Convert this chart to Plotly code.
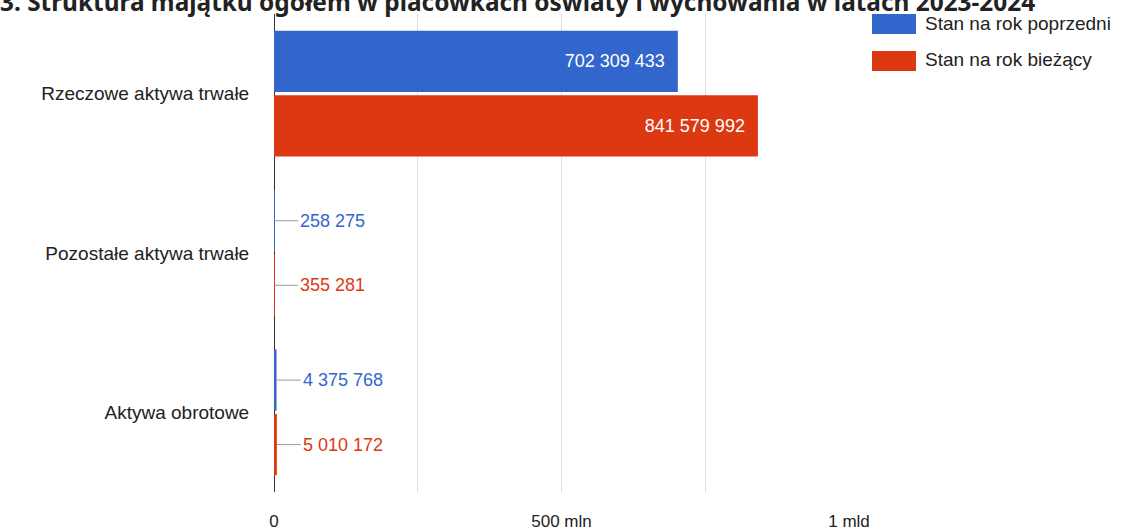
import plotly.graph_objects as go

categories = ["Rzeczowe aktywa trwałe", "Pozostałe aktywa trwałe", "Aktywa obrotowe"]
prev_values = [702309433, 258275, 4375768]
curr_values = [841579992, 355281, 5010172]
series_names = ["Stan na rok poprzedni", "Stan na rok bieżący"]
tick_vals = [0, 250e6, 500e6, 750e6, 1e9]
tick_text = ["0", "", "500 mln", "", "1 mld"]
title_text = "3. Struktura majątku ogółem w placówkach oświaty i wychowania w latach 2023-2024"

BLUE = "#3366cc"
RED = "#dc3912"
W, H = 1144, 532
ML, MR, MT, MB = 274, 295, 14, 40
PW, PH = W - ML - MR, H - MT - MB
BARGAP, GROUPGAP = 0.19, 0.05
FONT = "Liberation Sans, Arial, sans-serif"


def fmt(v):
    return f"{v:,}".replace(",", " ")


def px_x(p):
    return (p - ML) / PW


def px_y(p):
    return (H - MB - p) / PH


def inside_text(vals):
    return [fmt(v) + "\u2007" if v > 1e8 else "" for v in vals]


fig = go.Figure()
for name, vals, col in [(series_names[0], prev_values, BLUE), (series_names[1], curr_values, RED)]:
    fig.add_trace(go.Bar(
        y=categories, x=vals, orientation="h", name=name,
        marker=dict(color=col, line=dict(width=0)),
        text=inside_text(vals), textposition="inside", insidetextanchor="end",
        textfont=dict(color="white", size=18, family=FONT),
        cliponaxis=False, showlegend=False,
    ))

# leader-line labels for the small bars
band = PH / len(categories)
slot = band * (1 - BARGAP) / 2
shift = slot / 2
annotations = []
for vals, col, ys in [(prev_values, BLUE, shift), (curr_values, RED, -shift)]:
    for cat, v in zip(categories, vals):
        if v <= 1e8:
            annotations.append(dict(
                x=v, y=cat, xref="x", yref="y", yshift=ys,
                text=fmt(v), showarrow=True, arrowhead=0, arrowwidth=1,
                arrowcolor="#999999", ax=24, ay=0, xanchor="left",
                font=dict(color=col, size=18, family=FONT),
            ))

# legend drawn manually (large swatches)
shapes = []
for i, (name, col) in enumerate([(series_names[0], BLUE), (series_names[1], RED)]):
    top = 14 + i * 37
    shapes.append(dict(type="rect", xref="paper", yref="paper",
                       x0=px_x(872), x1=px_x(916), y0=px_y(top + 20), y1=px_y(top),
                       fillcolor=col, line=dict(width=0)))
    annotations.append(dict(xref="paper", yref="paper", x=px_x(923), y=px_y(top + 9),
                            xanchor="left", yanchor="middle", showarrow=False,
                            text=name, font=dict(size=19, color="#222222", family=FONT)))

fig.update_layout(
    width=W, height=H,
    margin=dict(l=ML, r=MR, t=MT, b=MB, pad=0, autoexpand=False),
    paper_bgcolor="white", plot_bgcolor="white",
    barmode="group", bargap=BARGAP, bargroupgap=GROUPGAP,
    title=dict(text=title_text, x=0, xanchor="left", xref="container",
               y=1 - 2.5 / H, yanchor="middle", yref="container",
               font=dict(size=24.4, color="#222222", family="Noto Sans, sans-serif", weight="bold")),
    xaxis=dict(range=[0, 1e9], tickvals=tick_vals, ticktext=tick_text,
               showgrid=True, gridcolor="#dddddd", gridwidth=1,
               zeroline=True, zerolinecolor="#333333", zerolinewidth=1,
               showline=False, ticks="outside", ticklen=14, tickcolor="rgba(0,0,0,0)",
               automargin=False,
               tickfont=dict(size=17, color="#222222", family=FONT), fixedrange=True),
    yaxis=dict(autorange="reversed", showgrid=False, zeroline=False, showline=False,
               ticks="outside", ticklen=20, tickcolor="rgba(0,0,0,0)", automargin=False,
               tickfont=dict(size=19, color="#222222", family=FONT), fixedrange=True),
    annotations=annotations, shapes=shapes,
    showlegend=False,
)

fig.write_html("out.html", config={"displayModeBar": False},
               post_script="document.body.style.margin='0';document.body.style.overflow='hidden';")
